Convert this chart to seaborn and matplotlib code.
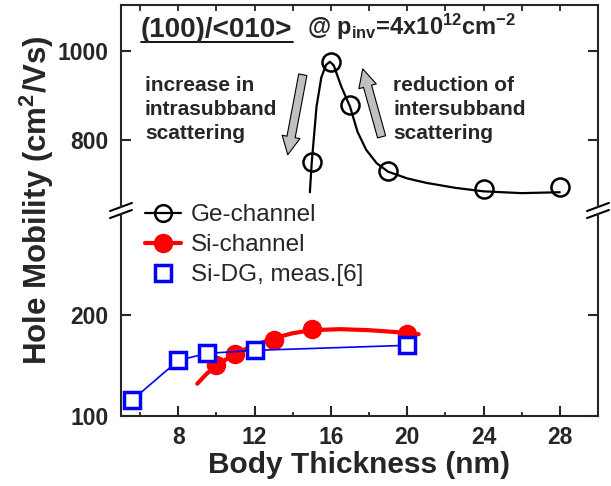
import numpy as np
import seaborn as sns
import matplotlib.pyplot as plt
from matplotlib.lines import Line2D
from matplotlib.ticker import MultipleLocator

# Data
ge_x = [15, 16, 17, 19, 24, 28]
ge_y = [751, 975, 878, 730, 690, 695]
ge_fit_x = [14.9, 15.0, 15.25, 15.5, 15.75, 15.95, 16.15, 16.55, 17.0, 17.4, 17.85,
            18.4, 19.0, 20.0, 21.0, 22.5, 24.0, 26.0, 28.0]
ge_fit_y = [683, 751, 875, 940, 968, 975, 967, 919, 875, 818, 778,
            748, 729, 714, 704, 693, 685, 681, 683]

si_x = [10, 11, 13, 15, 20]
si_y = [151, 161, 175, 186, 181]
si_fit_x = [9.0, 9.5, 10.0, 10.5, 11.0, 12.0, 13.0, 14.0, 15.0, 16.5, 18.0, 19.5, 20.6]
si_fit_y = [132, 142, 150, 156, 162, 170, 177, 182, 185, 186, 185, 183, 181]

dg_x = [5.6, 8, 9.5, 12, 20]
dg_y = [116, 155, 162, 165, 170]

sns.set_theme(style='ticks')
plt.rcParams['font.family'] = ['Liberation Sans', 'DejaVu Sans']
plt.rcParams['font.weight'] = 'bold'
plt.rcParams['mathtext.fontset'] = 'custom'
plt.rcParams['mathtext.rm'] = 'Liberation Sans:bold'
plt.rcParams['mathtext.bf'] = 'Liberation Sans:bold'
plt.rcParams['mathtext.it'] = 'Liberation Sans:bold'

fig = plt.figure(figsize=(6.11, 4.86), dpi=100)
ax_top = fig.add_axes([0.198, 0.5741, 0.7807, 0.4156])
ax_bot = fig.add_axes([0.198, 0.1440, 0.7807, 0.4156])

# Ge-channel (top panel)
sns.lineplot(x=ge_fit_x, y=ge_fit_y, ax=ax_top, color='black', lw=1.6,
             estimator=None, sort=False)
sns.lineplot(x=ge_x, y=ge_y, ax=ax_top, linestyle='none', marker='o', ms=13,
             mfc='none', mec='black', mew=1.8, estimator=None)

# Si-channel and Si-DG (bottom panel)
sns.lineplot(x=si_fit_x, y=si_fit_y, ax=ax_bot, color='red', lw=3,
             estimator=None, zorder=2)
sns.lineplot(x=si_x, y=si_y, ax=ax_bot, linestyle='none', marker='o', ms=13,
             mfc='red', mec='red', mew=1, estimator=None, zorder=2)
sns.lineplot(x=dg_x, y=dg_y, ax=ax_bot, color='blue', lw=1.2, marker='s', ms=12,
             mfc='white', mec='blue', mew=2.5, estimator=None, zorder=4)

for ax in (ax_top, ax_bot):
    ax.set_xlim(5, 30)
    ax.set_xlabel('')
    ax.set_ylabel('')
    for sp in ax.spines.values():
        sp.set_linewidth(1.5)
        sp.set_visible(True)
    ax.xaxis.set_major_locator(MultipleLocator(4))
    ax.xaxis.set_minor_locator(MultipleLocator(2))

ax_top.set_ylim(650, 1102)
ax_top.set_yticks([800, 1000])
ax_bot.set_ylim(100, 300)
ax_bot.set_yticks([100, 200])
ax_top.spines['bottom'].set_visible(False)
ax_bot.spines['top'].set_visible(False)

ax_top.tick_params(axis='x', which='both', direction='in', top=True, bottom=False,
                   labelbottom=False, length=4.5, width=1.3)
ax_top.tick_params(axis='y', direction='in', left=True, right=True, length=7,
                   width=1.5, labelsize=16.5, pad=9)
ax_bot.tick_params(axis='x', which='major', direction='in', top=False, length=7.5,
                   width=1.5, labelsize=16.5, pad=7)
ax_bot.tick_params(axis='x', which='minor', direction='in', top=False, length=3,
                   width=1.3)
ax_bot.tick_params(axis='y', direction='in', left=True, right=True, length=7,
                   width=1.5, labelsize=16.5, pad=9)
ax_bot.set_xticks([8, 12, 16, 20, 24, 28])

# axis break marks
dx, dy = 0.023, 0.02
for ax, yb in ((ax_top, 0), (ax_bot, 1)):
    for xb in (0, 1):
        ax.plot([xb - dx, xb + dx], [yb - dy, yb + dy], transform=ax.transAxes,
                color='black', lw=1.5, clip_on=False)

# labels
fig.text(37 / 611, 1 - 200 / 486, r'Hole Mobility (cm$^{2}$/Vs)', rotation=90,
         ha='center', va='center', fontsize=22.5, fontweight='bold')
fig.text(359 / 611, 1 - 465 / 486, 'Body Thickness (nm)', ha='center', va='center',
         fontsize=21.5, fontweight='bold')

# annotations
t = fig.text(141 / 611, 1 - 37 / 486, '(100)/<010>', fontsize=20, fontweight='bold',
             va='baseline')
fig.text(307 / 611, 1 - 35 / 486,
         r'@ p$_{\mathbf{inv}}$=4x10$^{\mathbf{12}}$cm$^{\mathbf{-2}}$',
         fontsize=17, fontweight='bold', va='baseline')
fig.text(145 / 611, 1 - 76 / 486, 'increase in\nintrasubband\nscattering',
         fontsize=15, fontweight='bold', va='top', linespacing=1.34)
fig.text(393 / 611, 1 - 76 / 486, 'reduction of\nintersubband\nscattering',
         fontsize=15, fontweight='bold', va='top', linespacing=1.34)

fig.canvas.draw()
bb = t.get_window_extent().transformed(fig.transFigure.inverted())
fig.add_artist(Line2D([bb.x0, bb.x1], [1 - 42 / 486] * 2, transform=fig.transFigure,
                      color='black', lw=1.3))

arrow_kw = dict(arrowstyle='simple,head_length=0.65,head_width=0.65,tail_width=0.3',
                fc='#c0c0c0', ec='black', lw=0.8, mutation_scale=20,
                shrinkA=0, shrinkB=0)
ax_top.annotate('', xy=(13.74, 767), xytext=(14.53, 946), arrowprops=arrow_kw)
ax_top.annotate('', xy=(17.67, 959), xytext=(18.66, 807), arrowprops=arrow_kw)

# legend
handles = [
    Line2D([], [], color='black', lw=1.6, marker='o', ms=12, mfc='none', mec='black', mew=1.8),
    Line2D([], [], color='red', lw=3, marker='o', ms=13, mfc='red', mec='red'),
    Line2D([], [], color='blue', lw=0, marker='s', ms=12, mfc='white', mec='blue', mew=2.5),
]
ax_bot.legend(handles, ['Ge-channel', 'Si-channel', 'Si-DG, meas.[6]'],
              loc='upper left', bbox_to_anchor=(145 / 611, 1 - 204 / 486),
              bbox_transform=fig.transFigure, frameon=False, borderpad=0,
              borderaxespad=0, handlelength=1.5, handletextpad=0.4,
              labelspacing=0.33, prop={'family': 'Liberation Sans', 'weight': 'normal', 'size': 17.5})

fig.savefig('out.png', dpi=100)
